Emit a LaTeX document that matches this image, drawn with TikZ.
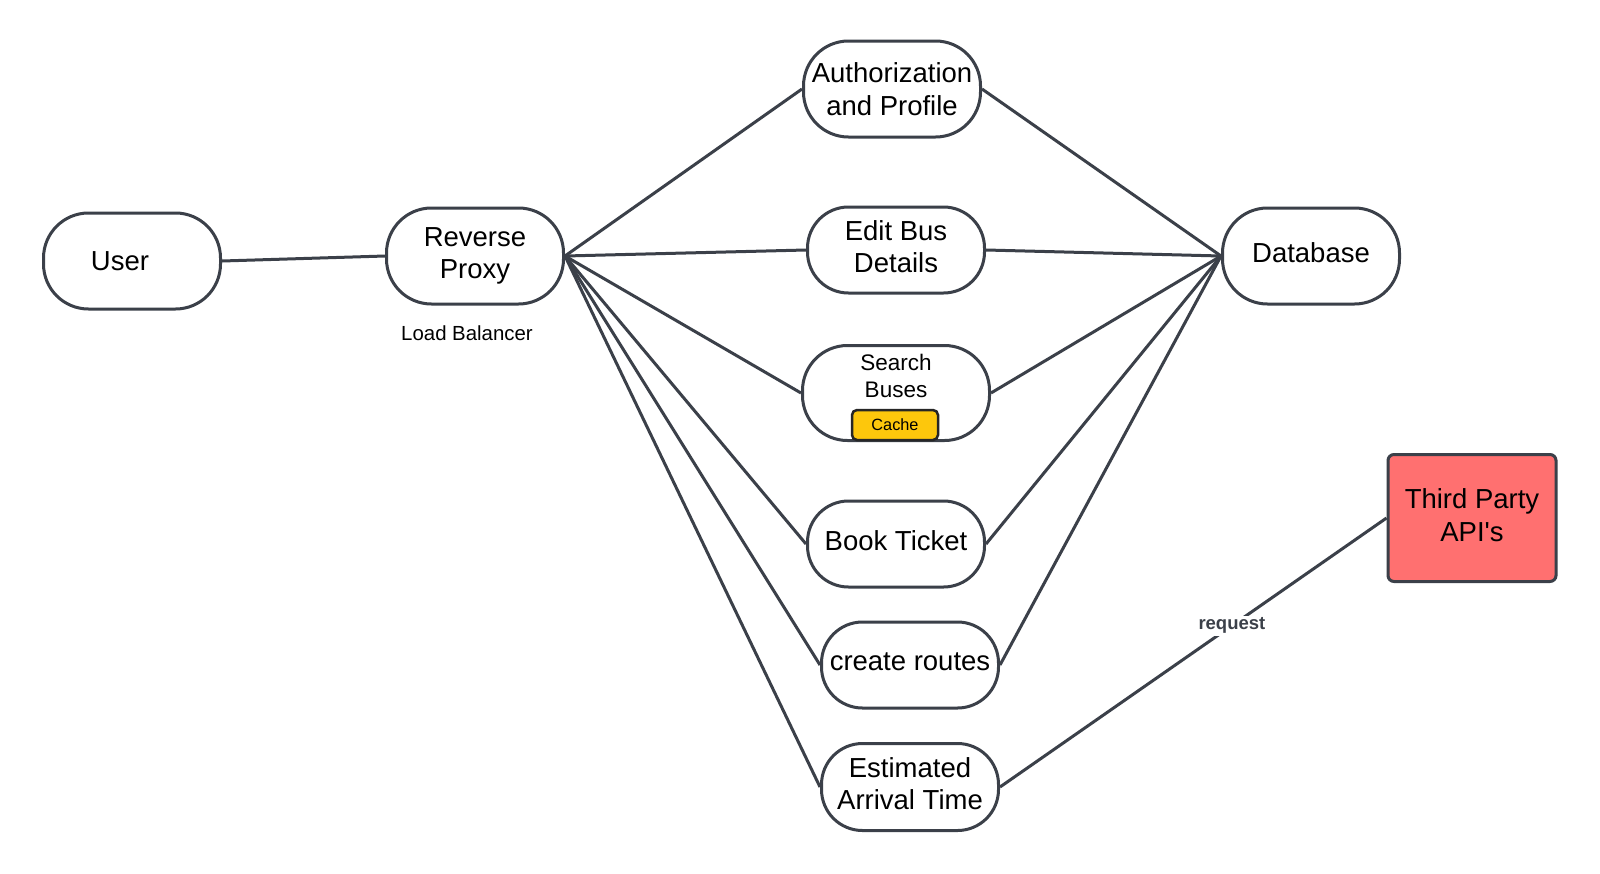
\documentclass[tikz,border=0pt]{standalone}
\usepackage{fontspec}
\setmainfont{Liberation Sans}
\definecolor{ln}{HTML}{3B4049}
\definecolor{cachey}{HTML}{FDC70C}
\definecolor{apired}{HTML}{FF7070}
\begin{document}
\begin{tikzpicture}[x=1pt,y=-1pt,
  term/.style={draw=ln, line width=3pt, fill=white, rounded corners=45pt,
    minimum width=177pt, minimum height=96pt, align=center, inner sep=0pt,
    font=\fontsize{27.5}{32.5}\selectfont},
  termsm/.style={term, minimum height=86pt, rounded corners=41pt, text depth=7pt},
  conn/.style={draw=ln, line width=3pt},
  lbl/.style={font=\fontsize{20.4}{24}\selectfont, inner sep=1pt}]
\useasboundingbox (0,0) rectangle (1600,873);
\fill[white] (0,0) rectangle (1600,873);

\node[term] (user) at (132,261) {User\hspace*{24pt}};
\node[term] (proxy) at (475,256) {Reverse\\Proxy};
\node[lbl] (lb) at (467,333) {Load Balancer};
\node[term] (auth) at (892,89) {Authorization\\and Profile};
\node[termsm] (edit) at (896,250) {Edit Bus\\Details};
\node[term, minimum width=187pt, minimum height=95pt] (search) at (896,393) {};
\node[align=center, font=\fontsize{22.5}{27}\selectfont, inner sep=0pt] (searcht) at (896,376) {Search\\Buses};
\node[draw=black!85, line width=2.5pt, fill=cachey, rounded corners=5pt,
  minimum width=86pt, minimum height=30pt, inner sep=0pt,
  font=\fontsize{16.3}{19}\selectfont] (cache) at (895,425) {Cache};
\node[termsm] (book) at (896,544) {Book Ticket};
\node[termsm] (routes) at (910,665) {create routes};
\node[termsm, minimum height=87pt] (eta) at (910,787) {Estimated\\Arrival Time};
\node[term, text depth=6pt] (db) at (1311,256) {Database};
\node[draw=ln, line width=3pt, fill=apired, rounded corners=6pt,
  minimum width=168pt, minimum height=127pt, align=center, inner sep=0pt,
  text depth=6pt, font=\fontsize{27.5}{32.5}\selectfont] (api) at (1472,518) {Third Party\\API\textquotesingle s};

\draw[conn] (user.east) -- (proxy.west);
\foreach \s in {auth,edit,search,book,routes,eta}
  \draw[conn] (proxy.east) -- (\s.west);
\foreach \s in {auth,edit,search,book,routes}
  \draw[conn] (\s.east) -- (db.west);
\draw[conn] (eta.east) -- node[pos=0.6, fill=white, inner sep=2pt,
  font=\fontsize{18.5}{22}\selectfont\bfseries, text=ln] (req) {request} (api.west);
\end{tikzpicture}
\end{document}
